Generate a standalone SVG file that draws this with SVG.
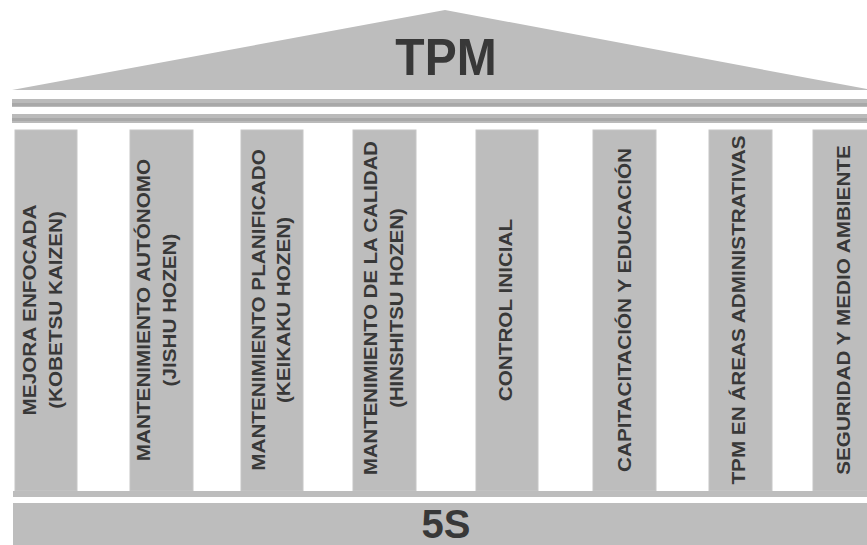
<svg xmlns="http://www.w3.org/2000/svg" width="867" height="545" viewBox="0 0 867 545">
<style>
.g{fill:#bdbdbd}
.band{fill:#bababa}
.bandline{fill:#a8a8a8}
.pil{fill:#bdbdbd;stroke:#c6c6c6;stroke-width:1}
.t{font-family:"Liberation Sans",Arial,Helvetica,sans-serif;font-weight:bold;fill:#383838}
.pt{font-size:19px;text-anchor:middle}
</style>
<rect width="867" height="545" fill="#ffffff"/>
<g id="roof">
<polygon class="g" points="12,90 445,10 872,90"/>
<g transform="translate(446,75) scale(1,1.08)"><text class="t" x="0" y="0" font-size="48" text-anchor="middle">TPM</text></g>
</g>
<g id="entablature">
<rect class="band" x="12" y="99" width="855" height="8"/>
<rect class="bandline" x="12" y="103" width="855" height="3"/>
<rect class="band" x="12" y="114" width="855" height="9"/>
<rect class="bandline" x="12" y="118" width="855" height="3"/>
</g>
<g id="p1">
<rect class="pil" x="15" y="130" width="62" height="361"/>
<g transform="translate(0,310) scale(1,1.09) rotate(-90)"><text class="t pt" x="0" y="36">MEJORA ENFOCADA</text><text class="t pt" x="0" y="62">(KOBETSU KAIZEN)</text></g>
</g>
<g id="p2">
<rect class="pil" x="130" y="130" width="63" height="361"/>
<g transform="translate(0,310) scale(1,1.09) rotate(-90)"><text class="t pt" x="0" y="150">MANTENIMIENTO AUTÓNOMO</text><text class="t pt" x="0" y="176">(JISHU HOZEN)</text></g>
</g>
<g id="p3">
<rect class="pil" x="241" y="130" width="62" height="361"/>
<g transform="translate(0,310) scale(1,1.09) rotate(-90)"><text class="t pt" x="0" y="265">MANTENIMIENTO PLANIFICADO</text><text class="t pt" x="0" y="290">(KEIKAKU HOZEN)</text></g>
</g>
<g id="p4">
<rect class="pil" x="353" y="130" width="63" height="361"/>
<g transform="translate(0,308) scale(1,1.07) rotate(-90)"><text class="t pt" x="0" y="377">MANTENIMIENTO DE LA CALIDAD</text><text class="t pt" x="0" y="403">(HINSHITSU HOZEN)</text></g>
</g>
<g id="p5">
<rect class="pil" x="476" y="130" width="62" height="361"/>
<g transform="translate(0,310) scale(1,1.09) rotate(-90)"><text class="t pt" x="0" y="512">CONTROL INICIAL</text></g>
</g>
<g id="p6">
<rect class="pil" x="593" y="130" width="63" height="361"/>
<g transform="translate(0,310) scale(1,1.09) rotate(-90)"><text class="t pt" x="0" y="631">CAPITACITACIÓN Y EDUCACIÓN</text></g>
</g>
<g id="p7">
<rect class="pil" x="709" y="130" width="63" height="361"/>
<g transform="translate(0,310) scale(1,1.09) rotate(-90)"><text class="t pt" x="0" y="745">TPM EN ÁREAS ADMINISTRATIVAS</text></g>
</g>
<g id="p8">
<rect class="pil" x="813" y="130" width="60" height="361"/>
<g transform="translate(0,310) scale(1,1.09) rotate(-90)"><text class="t pt" x="0" y="850">SEGURIDAD Y MEDIO AMBIENTE</text></g>
</g>
<g id="stylobate">
<rect class="g" x="13" y="491" width="854" height="6"/>
</g>
<g id="base">
<rect class="g" x="13" y="503" width="854" height="42"/>
<text class="t" x="446" y="538" font-size="40" text-anchor="middle">5S</text>
</g>
<g id="connectors"/>
</svg>
